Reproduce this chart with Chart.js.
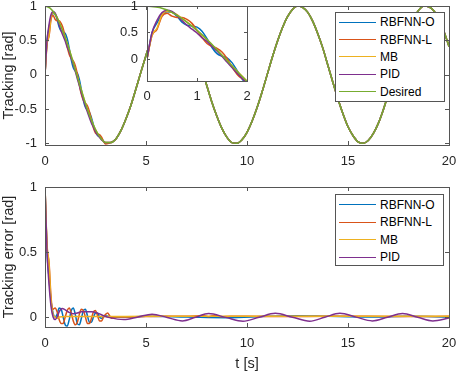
<!DOCTYPE html>
<html>
<head>
<meta charset="utf-8">
<script src="https://cdn.jsdelivr.net/npm/chart.js@4.4.0/dist/chart.umd.min.js"></script>
<style>
  body { margin: 0; width: 457px; height: 373px; overflow: hidden; position: relative; background: #fff;
         font-family: "Liberation Sans", Arial, sans-serif; }
  canvas { position: absolute; }
  .legend { position: absolute; box-sizing: border-box; background: #fff; border: 1px solid #555; font-size: 12px; color: #000; }
  .row { height: 17.4px; display: flex; align-items: center; white-space: nowrap; }
  .swatch { width: 37px; height: 0; border-top: 1.6px solid; margin: 0 4px 0 3px; }
</style>
</head>
<body>
<canvas id="topChart" width="457" height="178" style="left:0;top:0"></canvas>
<canvas id="insetChart" width="155" height="110" style="left:100px;top:0"></canvas>
<canvas id="errChart" width="457" height="193" style="left:0;top:180px"></canvas>
<div class="legend" id="legTop" style="left:335px;top:12px;width:110px;height:90px;padding-top:0.5px"></div>
<div class="legend" id="legErr" style="left:335px;top:194px;width:109px;height:72px;padding-top:1.3px"></div>
<script>
const names = ['RBFNN-O', 'RBFNN-L', 'MB', 'PID', 'Desired'];
const colors = ['#0072BD', '#D95319', '#EDB120', '#7E2F8E', '#77AC30'];

const xTicks = [0, 5, 10, 15, 20];
const yTicksTop = [-1, -0.5, 0, 0.5, 1];
const yTicksErr = [0, 0.5, 1];
const xTicksInset = [0, 1, 2];
const yTicksInset = [0, 0.5, 1];

// desired trajectory
const tDes = [0, 0.25, 0.5, 0.75, 1, 1.25, 1.5, 1.75, 2, 2.25, 2.5, 2.75, 3, 3.25, 3.5, 3.75, 4, 4.25, 4.5, 4.75,
  5, 5.25, 5.5, 5.75, 6, 6.25, 6.5, 6.75, 7, 7.25, 7.5, 7.75, 8, 8.25, 8.5, 8.75, 9, 9.25, 9.5, 9.75,
  10, 10.25, 10.5, 10.75, 11, 11.25, 11.5, 11.75, 12, 12.25, 12.5, 12.75, 13, 13.25, 13.5, 13.75, 14, 14.25, 14.5, 14.75,
  15, 15.25, 15.5, 15.75, 16, 16.25, 16.5, 16.75, 17, 17.25, 17.5, 17.75, 18, 18.25, 18.5, 18.75, 19, 19.25, 19.5, 19.75, 20];
const desired = [1, .97, .88, .73, .54, .32, .07, -.18, -.42, -.63,
  -.8, -.92, -.99, -.99, -.94, -.82, -.65, -.45, -.21, .04,
  .28, .51, .71, .86, .96, 1, .98, .89, .75, .57,
  .35, .1, -.15, -.39, -.6, -.78, -.91, -.99, -1, -.95,
  -.84, -.68, -.48, -.25, 0, .25, .48, .68, .84, .95,
  1, .98, .91, .78, .6, .39, .14, -.11, -.35, -.57,
  -.76, -.89, -.98, -1, -.96, -.86, -.71, -.51, -.28, -.04,
  .21, .44, .66, .82, .94, 1, .99, .93, .8, .63, .41];

// tracking of each controller over the first 3 s (afterwards on the desired curve)
const tEarly = [0, .1, .2, .3, .4, .5, .6, .7, .8, .9, 1, 1.1, 1.2, 1.3, 1.4, 1.5, 1.6, 1.7, 1.8, 1.9,
  2, 2.1, 2.2, 2.3, 2.4, 2.5, 2.6, 2.7, 2.8, 2.9, 3];
const trackO = [0, .495, .68, .835, .89, .88, .805, .695, .637, .622, .6, .524, .382, .217, .1, .051, .021, -.069, -.217, -.373,
  -.476, -.515, -.549, -.626, -.737, -.831, -.887, -.904, -.932, -.971, -1];
const trackL = [0, .445, .56, .805, .861, .808, .785, .785, .747, .672, .54, .404, .292, .237, .2, .131, .011, -.149, -.287, -.373,
  -.416, -.455, -.539, -.656, -.777, -.851, -.867, -.874, -.912, -.971, -1.01];
const trackMB = [0, .445, .58, .835, .9, .878, .835, .765, .697, .622, .54, .454, .362, .267, .17, .071, -.029, -.129, -.227, -.323,
  -.416, -.505, -.589, -.666, -.737, -.801, -.857, -.904, -.942, -.971, -.99];
const trackPID = [0, .495, .73, .875, .921, .898, .825, .725, .637, .562, .49, .4, .332, .24, .15, .05, -.059, -.16, -.267, -.363,
  -.456, -.545, -.629, -.706, -.767, -.831, -.877, -.914, -.952, -.971, -.99];

// tracking errors
const tErrO = [0, .1, .2, .3, .4, .5, .6, .7, .8, .9, 1, 1.1, 1.2, 1.3, 1.4, 1.5, 1.6, 1.7, 1.8, 1.9,
  2, 2.1, 2.2, 2.3, 2.4, 2.5, 2.6, 2.7, 2.8, 2.9, 3, 3.3, 4, 5, 7, 9, 11, 12.5, 14, 16, 18, 20];
const errO = [1, .5, .3, .12, .03, 0, .02, .07, .06, 0, -.06, -.07, -.02, .05, .07, .02, -.05, -.06, -.01, .05,
  .06, .01, -.04, -.04, 0, .03, .03, 0, -.01, 0, .01, 0, 0, .005, 0, -.005, .005, .01, .005, 0, .005, 0];
const tErrL = [0, .1, .2, .3, .4, .5, .6, .7, .8, .9, 1, 1.1, 1.2, 1.3, 1.4, 1.5, 1.6, 1.7, 1.8, 1.9,
  2, 2.1, 2.2, 2.3, 2.4, 2.5, 2.6, 2.7, 2.8, 2.9, 3, 3.1, 3.2, 3.3, 3.4, 3.5,
  4, 5, 6, 7, 7.8, 8.1, 8.4, 8.7, 9.2, 10, 12, 14, 16, 18, 20];
const errL = [1, .55, .42, .15, .06, .07, .04, -.02, -.05, -.05, 0, .05, .07, .03, -.03, -.06, -.04, .02, .06, .05,
  0, -.05, -.05, -.01, .04, .05, .01, -.03, -.03, 0, .02, .03, .01, -.01, 0, 0,
  0, .003, .005, .005, .012, .002, .012, .002, .005, .005, .003, .005, .005, .003, .005];
const tErrMB = [0, .1, .2, .3, .4, .5, .6, .7, 1, 2, 3, 5, 8, 10, 12, 15, 18, 20];
const errMB = [1, .56, .4, .12, .02, 0, -.01, 0, .003, .003, .003, .005, .005, .005, .005, .005, .005, .005];
const tErrPID = [0, .1, .2, .3, .4, .5, .6, .7, .85, 1, 1.2, 1.4, 1.6, 1.8, 2, 2.3, 2.6, 2.9, 3.2, 3.9,
  4.6, 5.3, 6.05, 6.8, 7.45, 8.1, 8.95, 9.8, 10.6, 11.4, 12.25, 13.1, 13.85, 14.6, 15.4, 16.2, 16.95, 17.7, 18.45, 19.2, 20];
const errPID = [1, .5, .25, .08, 0, -.02, 0, .04, .065, .055, .035, .025, .03, .04, .04, .04, .03, .01, -.005, -.02,
  0, .022, -.004, -.03, -.002, .026, -.003, -.032, -.002, .028, -.002, -.032, -.002, .028, -.001, -.03, -.002, .026, -.002, -.03, -.008];

const FAMILY = '"Liberation Sans", Arial, sans-serif';
const TICK_FONT = { family: FAMILY, size: 13 };
const TITLE_FONT = { family: FAMILY, size: 14.5 };
const TEXT = '#262626';

function pts(ts, vs) {
  return ts.map((t, i) => ({ x: t, y: vs[i] }));
}

function withTail(ts, vs) {
  const p = pts(ts, vs);
  const last = ts[ts.length - 1];
  tDes.forEach((t, i) => { if (t > last) p.push({ x: t, y: desired[i] }); });
  return p;
}

function line(i, data) {
  return {
    label: names[i], data, borderColor: colors[i], borderWidth: 1.5, pointRadius: 0,
    cubicInterpolationMode: 'monotone', order: 10 - i
  };
}

// MATLAB-like box with inward ticks
const frame = {
  id: 'frame',
  beforeDraw(chart, args, opts) {
    if (!opts.fill) return;
    const a = chart.chartArea;
    chart.ctx.save();
    chart.ctx.fillStyle = '#fff';
    chart.ctx.fillRect(a.left, a.top, a.right - a.left, a.bottom - a.top);
    chart.ctx.restore();
  },
  afterDatasetsDraw(chart, args, opts) {
    const { ctx, chartArea: a, scales: { x, y } } = chart;
    const L = opts.tick || 4;
    ctx.save();
    ctx.strokeStyle = '#555';
    ctx.lineWidth = 1;
    ctx.beginPath();
    x.ticks.forEach((t) => {
      const px = Math.round(x.getPixelForValue(t.value)) + 0.5;
      ctx.moveTo(px, a.bottom); ctx.lineTo(px, a.bottom - L);
      ctx.moveTo(px, a.top); ctx.lineTo(px, a.top + L);
    });
    y.ticks.forEach((t) => {
      const py = Math.round(y.getPixelForValue(t.value)) + 0.5;
      ctx.moveTo(a.left, py); ctx.lineTo(a.left + L, py);
      ctx.moveTo(a.right, py); ctx.lineTo(a.right - L, py);
    });
    ctx.stroke();
    ctx.strokeRect(Math.round(a.left) + 0.5, Math.round(a.top) + 0.5, Math.round(a.right - a.left), Math.round(a.bottom - a.top));
    ctx.restore();
  }
};

function axes(cfg) {
  return {
    x: {
      type: 'linear', min: cfg.xmin, max: cfg.xmax,
      grid: { display: false, drawTicks: false, tickLength: 0 }, border: { display: false },
      afterBuildTicks: (s) => { s.ticks = cfg.xticks.map((v) => ({ value: v })); },
      afterFit: (s) => { s.height = cfg.xh; s.paddingLeft = 0; s.paddingRight = 0; },
      ticks: { color: TEXT, font: TICK_FONT, padding: cfg.xpad, autoSkip: false, maxRotation: 0, callback: (v) => String(v) },
      title: cfg.xtitle ? { display: true, text: cfg.xtitle, color: TEXT, font: TITLE_FONT, padding: { top: 0, bottom: 0 } } : { display: false }
    },
    y: {
      type: 'linear', min: cfg.ymin, max: cfg.ymax,
      grid: { display: false, drawTicks: false, tickLength: 0 }, border: { display: false },
      afterBuildTicks: (s) => { s.ticks = cfg.yticks.map((v) => ({ value: v })); },
      afterFit: (s) => { s.width = cfg.yw; s.paddingTop = 0; s.paddingBottom = 0; },
      ticks: { color: TEXT, font: TICK_FONT, padding: cfg.ypad, callback: (v) => String(v) },
      title: cfg.ytitle ? { display: true, text: cfg.ytitle, color: TEXT, font: TITLE_FONT, padding: { top: 0, bottom: 0 } } : { display: false }
    }
  };
}

function trackingSets() {
  return [
    line(0, withTail(tEarly, trackO)),
    line(1, withTail(tEarly, trackL)),
    line(2, withTail(tEarly, trackMB)),
    line(3, withTail(tEarly, trackPID)),
    line(4, pts(tDes, desired))
  ];
}

const common = { responsive: false, animation: false, events: [] };

new Chart(document.getElementById('topChart'), {
  type: 'line',
  data: { datasets: trackingSets() },
  options: {
    ...common,
    layout: { padding: { left: 0, right: 8, top: 6, bottom: 0 } },
    plugins: { legend: { display: false }, tooltip: { enabled: false }, frame: { tick: 4 } },
    scales: axes({ xmin: 0, xmax: 20, ymin: -1.025, ymax: 1, xticks: xTicks, yticks: yTicksTop,
      xh: 33, yw: 45, xpad: 9, ypad: 8, ytitle: 'Tracking [rad]' })
  },
  plugins: [frame]
});

new Chart(document.getElementById('insetChart'), {
  type: 'line',
  data: { datasets: trackingSets() },
  options: {
    ...common,
    layout: { padding: { left: 0, right: 8, top: 6, bottom: 0 } },
    plugins: { legend: { display: false }, tooltip: { enabled: false }, frame: { tick: 3, fill: true } },
    scales: axes({ xmin: 0, xmax: 2, ymin: -0.416, ymax: 1, xticks: xTicksInset, yticks: yTicksInset,
      xh: 29, yw: 47, xpad: 8, ypad: 9 })
  },
  plugins: [frame]
});

new Chart(document.getElementById('errChart'), {
  type: 'line',
  data: {
    datasets: [
      line(0, pts(tErrO, errO)),
      line(1, pts(tErrL, errL)),
      line(2, pts(tErrMB, errMB)),
      line(3, pts(tErrPID, errPID))
    ]
  },
  options: {
    ...common,
    layout: { padding: { left: 0, right: 8, top: 7, bottom: 0 } },
    plugins: { legend: { display: false }, tooltip: { enabled: false }, frame: { tick: 4 } },
    scales: axes({ xmin: 0, xmax: 20, ymin: -0.077, ymax: 1, xticks: xTicks, yticks: yTicksErr,
      xh: 46, yw: 45, xpad: 9, ypad: 8, ytitle: 'Tracking error [rad]', xtitle: 't [s]' })
  },
  plugins: [frame]
});

function buildLegend(id, count) {
  const el = document.getElementById(id);
  for (let i = 0; i < count; i++) {
    const row = document.createElement('div');
    row.className = 'row';
    const sw = document.createElement('div');
    sw.className = 'swatch';
    sw.style.borderColor = colors[i];
    const label = document.createElement('span');
    label.textContent = names[i];
    row.appendChild(sw);
    row.appendChild(label);
    el.appendChild(row);
  }
}
buildLegend('legTop', 5);
buildLegend('legErr', 4);
</script>
</body>
</html>
